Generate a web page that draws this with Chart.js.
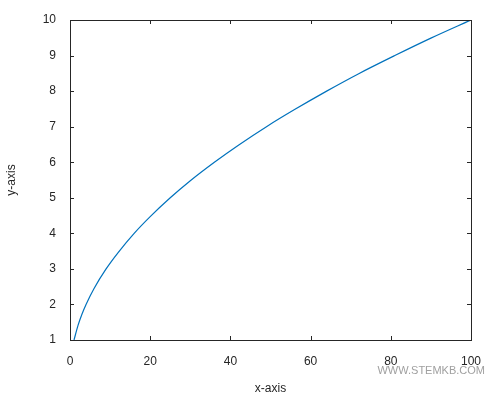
<!DOCTYPE html>
<html>
<head>
<meta charset="utf-8">
<script src="https://cdn.jsdelivr.net/npm/chart.js@4"></script>
<style>
  body { margin: 0; background: #fff; }
</style>
</head>
<body>
<canvas id="chart" width="502" height="400"></canvas>
<script>
// values
const xValues = [1, 2, 3, 4, 6, 9, 12, 16, 20, 25, 30, 36, 42, 49, 56, 64, 72, 81, 90, 100];
const yValues = [1, 1.41, 1.73, 2, 2.45, 3, 3.46, 4, 4.47, 5, 5.48, 6, 6.48, 7, 7.48, 8, 8.49, 9, 9.49, 10];
const xTicks = [0, 20, 40, 60, 80, 100];
const yTicks = [1, 2, 3, 4, 5, 6, 7, 8, 9, 10];

const points = xValues.map((x, i) => ({ x: x, y: yValues[i] }));

// box around the plot + inward ticks, matlab style
const boxPlugin = {
  id: 'box',
  afterDraw(chart) {
    const { ctx, chartArea: a, scales } = chart;
    ctx.save();
    ctx.strokeStyle = '#262626';
    ctx.lineWidth = 1;
    ctx.strokeRect(a.left + 0.5, a.top + 0.5, a.right - a.left, a.bottom - a.top);
    ctx.beginPath();
    for (const t of xTicks) {
      let px = Math.round(scales.x.getPixelForValue(t)) + 0.5;
      ctx.moveTo(px, a.bottom); ctx.lineTo(px, a.bottom - 4);
      ctx.moveTo(px, a.top); ctx.lineTo(px, a.top + 4);
    }
    for (const t of yTicks) {
      let py = Math.round(scales.y.getPixelForValue(t)) + 0.5;
      ctx.moveTo(a.left, py); ctx.lineTo(a.left + 4, py);
      ctx.moveTo(a.right, py); ctx.lineTo(a.right - 4, py);
    }
    ctx.stroke();
    ctx.fillStyle = '#a0a0a0';
    ctx.font = '11px "Liberation Sans", Arial, sans-serif';
    ctx.textAlign = 'right';
    ctx.fillText('WWW.STEMKB.COM', 485, 374);
    ctx.restore();
  }
};

Chart.defaults.font.family = '"Liberation Sans", Arial, sans-serif';
Chart.defaults.color = '#262626';

new Chart(document.getElementById('chart'), {
  type: 'line',
  data: {
    datasets: [{
      data: points,
      borderColor: '#0072BD',
      borderWidth: 1.2,
      pointRadius: 0,
      cubicInterpolationMode: 'monotone',
      fill: false
    }]
  },
  options: {
    responsive: false,
    animation: false,
    layout: { padding: { top: 20, right: 31, left: 0, bottom: 0 } },
    plugins: { legend: { display: false }, tooltip: { enabled: false } },
    scales: {
      x: {
        type: 'linear', min: 0, max: 100,
        afterBuildTicks: s => { s.ticks = xTicks.map(v => ({ value: v })); },
        afterFit: s => { s.height = 60; },
        grid: { display: false },
        border: { display: false },
        ticks: { font: { size: 12 }, padding: 6, maxRotation: 0 },
        title: { display: true, text: 'x-axis', font: { size: 12 }, padding: { top: 2 } }
      },
      y: {
        type: 'linear', min: 1, max: 10,
        afterBuildTicks: s => { s.ticks = yTicks.map(v => ({ value: v })); },
        afterFit: s => { s.width = 70; },
        grid: { display: false },
        border: { display: false },
        ticks: { font: { size: 12 }, padding: 6 },
        title: { display: true, text: 'y-axis', font: { size: 12 }, padding: { bottom: 14 } }
      }
    }
  },
  plugins: [boxPlugin]
});
</script>
</body>
</html>
